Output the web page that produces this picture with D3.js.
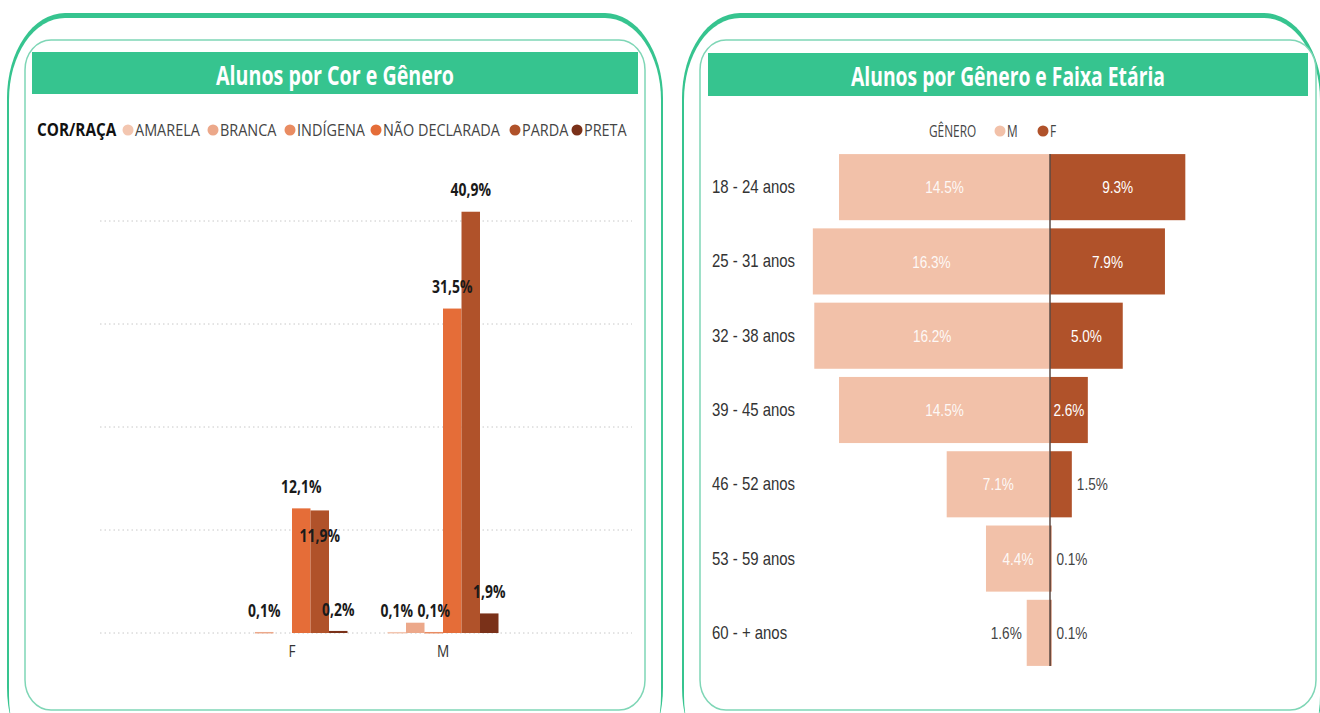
<!DOCTYPE html>
<html><head><meta charset="utf-8">
<script src="https://cdn.jsdelivr.net/npm/d3@7"></script>
<style>html,body{margin:0;padding:0;background:#fff;}svg{display:block;}</style>
</head><body>
<svg id="c" width="1320" height="713"></svg>
<script>
// ---------- data ----------
const genders = ["F", "M"];
const races = ["AMARELA", "BRANCA", "INDÍGENA", "NÃO DECLARADA", "PARDA", "PRETA"];
const raceF = [0, 0.1, 0, 12.1, 11.9, 0.2];
const raceM = [0.1, 1.0, 0.1, 31.5, 40.9, 1.9];
const raceTicks = [0, 10, 20, 30, 40];
const ageGroups = ["18 - 24 anos", "25 - 31 anos", "32 - 38 anos", "39 - 45 anos", "46 - 52 anos", "53 - 59 anos", "60 - + anos"];
const ageM = [14.5, 16.3, 16.2, 14.5, 7.1, 4.4, 1.6];
const ageF = [9.3, 7.9, 5.0, 2.6, 1.5, 0.1, 0.1];
const raceColors = ["#f3c6b0", "#eca88a", "#e98c62", "#e56d38", "#b0522a", "#7a3119"];
const genderColors = {M: "#f2c1a9", F: "#b0522a"};

const GREEN = "#36c48f";
const svg = d3.select("#c");

// helper: text squished horizontally
function txt(g, x, y, s, o) {
  o = o || {};
  const t = g.append("text")
    .attr("transform", `translate(${x},${y}) scale(${o.k || 0.84},1)`)
    .attr("text-anchor", o.anchor || "start")
    .attr("dominant-baseline", "central")
    .style("font-family", o.font || "'Open Sans', 'Noto Sans', sans-serif")
    .style("font-size", (o.size || 15) + "px")
    .style("font-weight", o.weight || 400)
    .style("fill", o.fill || "#333")
    .text(s);
  if (o.opacity != null) t.style("opacity", o.opacity);
  return t;
}

// ---------- frames ----------
function frame(x0, x1, ix0, ix1) {
  const g = svg.append("g");
  g.append("rect").attr("x", x0).attr("y", 13).attr("width", x1 - x0).attr("height", 760)
    .attr("rx", 58).attr("ry", 85).attr("fill", GREEN);
  g.append("rect").attr("x", x0 + 2).attr("y", 18).attr("width", x1 - x0 - 4).attr("height", 760)
    .attr("rx", 56).attr("ry", 82).attr("fill", "#fff");
  g.append("rect").attr("x", ix0).attr("y", 40).attr("width", ix1 - ix0).attr("height", 670)
    .attr("rx", 26).attr("ry", 30).attr("fill", "#fff").attr("stroke", "#7fd6b6").attr("stroke-width", 1.5);
  return g;
}
frame(7, 663, 25, 645);
frame(682, 1322, 700, 1316);

function titleBar(x0, x1, y0, y1, s, len) {
  svg.append("rect").attr("x", x0).attr("y", y0).attr("width", x1 - x0).attr("height", y1 - y0).attr("fill", GREEN);
  svg.append("text").attr("x", (x0 + x1) / 2).attr("y", (y0 + y1) / 2 + 1)
    .attr("text-anchor", "middle").attr("dominant-baseline", "central")
    .attr("textLength", len).attr("lengthAdjust", "spacingAndGlyphs")
    .style("font-family", "'Open Sans', sans-serif").style("font-weight", 700).style("font-size", "27px")
    .style("fill", "#fff").text(s);
}
titleBar(32, 638, 52, 94, "Alunos por Cor e Gênero", 238);
titleBar(708, 1308, 53, 96, "Alunos por Gênero e Faixa Etária", 314);

// ---------- left chart ----------
const L = svg.append("g");
const lLeg = L.append("g");
txt(lLeg, 37, 130, "COR/RAÇA", {weight: 700, size: 17, fill: "#111", k: 0.9});
const legPos = [128, 213, 290, 376, 515, 577];
races.forEach((r, i) => {
  lLeg.append("circle").attr("cx", legPos[i]).attr("cy", 130).attr("r", 5.5).attr("fill", raceColors[i]);
  txt(lLeg, legPos[i] + 7, 130, r, {size: 17, fill: "#444", k: 0.85});
});

const y = d3.scaleLinear().domain([0, 45]).range([633, 633 - 45 * 10.3]);
const x0 = d3.scaleBand().domain(genders).range([236.5, 498.5]).paddingInner(0.265).paddingOuter(0);
const x1 = d3.scaleBand().domain(races).range([0, x0.bandwidth()]);

L.append("g").selectAll("line").data(raceTicks).join("line")
  .attr("x1", 100).attr("x2", 632).attr("y1", d => y(d)).attr("y2", d => y(d))
  .attr("stroke", "#c8c8c8").attr("stroke-width", 1).attr("stroke-dasharray", "1.5,3");

const rows = [];
genders.forEach(gn => {
  const vals = gn === "F" ? raceF : raceM;
  races.forEach((r, i) => rows.push({g: gn, r, i, v: vals[i]}));
});
L.append("g").selectAll("rect").data(rows.filter(d => d.v > 0)).join("rect")
  .attr("x", d => x0(d.g) + x1(d.r)).attr("width", x1.bandwidth())
  .attr("y", d => y(d.v)).attr("height", d => Math.max(1.5, y(0) - y(d.v)))
  .attr("fill", d => raceColors[d.i]);

// category labels
genders.forEach(gn => txt(L, x0(gn) + x0.bandwidth() / 2, 651, gn, {anchor: "middle", size: 17, fill: "#333", k: 0.8}));

// data labels with simple collision handling
const placed = [];
function overlaps(b) { return placed.some(p => !(b.x1 < p.x0 || b.x0 > p.x1 || b.y1 < p.y0 || b.y0 > p.y1)); }
const lblG = L.append("g");
rows.filter(d => d.v > 0).forEach(d => {
  const cx = x0(d.g) + x1(d.r) + x1.bandwidth() / 2;
  const s = d3.format(".1f")(d.v).replace(".", ",") + "%";
  const w = 34, h = 16;
  let cy = y(d.v) - 22;
  let b = {x0: cx - w / 2, x1: cx + w / 2, y0: cy - h / 2, y1: cy + h / 2};
  if (overlaps(b)) {
    if (y(0) - y(d.v) > 40) { cy = y(d.v) + 25; b = {x0: cx - w / 2, x1: cx + w / 2, y0: cy - h / 2, y1: cy + h / 2}; }
    else return;
  }
  placed.push(b);
  txt(lblG, cx, cy, s, {anchor: "middle", weight: 700, size: 17, fill: "#1a1a1a", k: 0.82});
});

// ---------- right chart ----------
const R = svg.append("g");
txt(R, 929, 131, "GÊNERO", {size: 16, fill: "#444", k: 0.74});
R.append("circle").attr("cx", 1000).attr("cy", 131).attr("r", 5.5).attr("fill", genderColors.M);
txt(R, 1007, 131, "M", {size: 16, fill: "#444", k: 0.74});
R.append("circle").attr("cx", 1043).attr("cy", 131).attr("r", 5.5).attr("fill", genderColors.F);
txt(R, 1050, 131, "F", {size: 16, fill: "#444", k: 0.74});

const yb = d3.scaleBand().domain(ageGroups).range([150, 670]).paddingInner(0.11).paddingOuter(0.055);
const xb = d3.scaleLinear().domain([-17, 17]).range([1050 - 17 * 14.55, 1050 + 17 * 14.55]);

const ageRows = ageGroups.map((a, i) => ({a, m: ageM[i], f: ageF[i]}));
R.append("g").selectAll("rect").data(ageRows).join("rect")
  .attr("x", d => xb(-d.m)).attr("width", d => xb(0) - xb(-d.m))
  .attr("y", d => yb(d.a)).attr("height", yb.bandwidth()).attr("fill", genderColors.M);
R.append("g").selectAll("rect").data(ageRows).join("rect")
  .attr("x", xb(0)).attr("width", d => Math.max(1, xb(d.f) - xb(0)))
  .attr("y", d => yb(d.a)).attr("height", yb.bandwidth()).attr("fill", genderColors.F);
R.append("line").attr("x1", xb(0)).attr("x2", xb(0)).attr("y1", yb.range()[0] + 4).attr("y2", yb.range()[1] - 4)
  .attr("stroke", "#5a4a44").attr("stroke-width", 1.5);

// axis labels
ageRows.forEach(d => txt(R, 712, yb(d.a) + yb.bandwidth() / 2, d.a,
  {font: "'Liberation Sans', Arial, sans-serif", size: 18, fill: "#333", k: 0.83}));

// value labels
const fmt = v => d3.format(".1f")(v) + "%";
const lw = 36;
const AF = "'Liberation Sans', Arial, sans-serif";
ageRows.forEach(d => {
  const cy = yb(d.a) + yb.bandwidth() / 2;
  const wm = xb(0) - xb(-d.m);
  if (wm > lw + 6) txt(R, xb(-d.m) + wm / 2, cy, fmt(d.m), {anchor: "middle", font: AF, size: 17, fill: "#fff", k: 0.8, opacity: 0.9});
  else txt(R, xb(-d.m) - 5, cy, fmt(d.m), {anchor: "end", font: AF, size: 17, fill: "#444", k: 0.8});
  const wf = xb(d.f) - xb(0);
  if (wf > lw) txt(R, xb(0) + wf / 2, cy, fmt(d.f), {anchor: "middle", font: AF, size: 17, fill: "#fff", k: 0.8});
  else txt(R, xb(d.f) + 5, cy, fmt(d.f), {anchor: "start", font: AF, size: 17, fill: "#444", k: 0.8});
});
</script>
</body></html>
